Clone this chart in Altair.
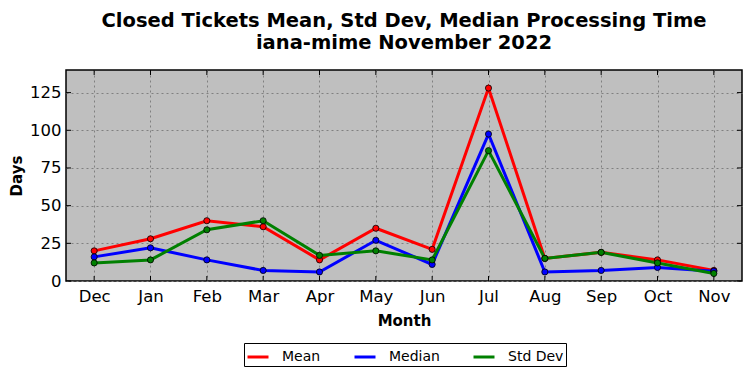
import altair as alt
import pandas as pd

months = ["Dec", "Jan", "Feb", "Mar", "Apr", "May", "Jun", "Jul", "Aug", "Sep", "Oct", "Nov"]
mean = [20, 28, 40, 36, 14, 35, 21, 128, 15, 19, 14, 7]
median = [16, 22, 14, 7, 6, 27, 11, 97.5, 6, 7, 9, 6.5]
stddev = [12, 14, 34, 40, 17, 20, 14, 86.5, 15, 19, 12, 5]
series = ["Mean", "Median", "Std Dev"]
colors = ["#ff0000", "#0000ff", "#008000"]
yticks = [0, 25, 50, 75, 100, 125]

rows = []
for name, vals in zip(series, [mean, median, stddev]):
    for m, v in zip(months, vals):
        rows.append({"Month": m, "Days": v, "Series": name})
df = pd.DataFrame(rows)
mdf = pd.DataFrame({"Month": months})
ydf = pd.DataFrame({"t": yticks})

W, H = 676, 211
font = "DejaVu Sans"

xs = alt.X("Month:N", sort=months, scale=alt.Scale(type="point", padding=0.5),
           axis=alt.Axis(title="Month", labelFontSize=16.5, titleFontSize=15, titleFontWeight="bold",
                         labelColor="black", titleColor="black", labelFont=font, titleFont=font,
                         ticks=False, labelPadding=7, titlePadding=9, labelAngle=0,
                         grid=True, gridColor="#808080", gridDash=[2, 3], gridWidth=1,
                         domain=False))
ys = alt.Y("Days:Q", scale=alt.Scale(domain=[0, 140], nice=False, zero=False),
           axis=alt.Axis(title="Days", values=yticks, labelFontSize=16.5, titleFontSize=15,
                         titleFontWeight="bold", labelColor="black", titleColor="black",
                         labelFont=font, titleFont=font, ticks=False, labelPadding=5,
                         titlePadding=5, grid=True, gridColor="#808080", gridDash=[2, 3],
                         gridWidth=1, domain=False))
color = alt.Color("Series:N", scale=alt.Scale(domain=series, range=colors),
                  legend=alt.Legend(title=None, orient="none", legendX=178, legendY=273,
                                    direction="horizontal", symbolType="stroke",
                                    symbolStrokeWidth=3, symbolSize=441,
                                    labelFontSize=14, labelFont=font, labelColor="black",
                                    strokeColor="black", padding=2, columnPadding=27,
                                    symbolOffset=0, labelOffset=12, fillColor="white"))

lines = alt.Chart(df).mark_line(strokeWidth=3).encode(x=xs, y=ys, color=color)
pts = alt.Chart(df).mark_point(filled=True, size=38, stroke="black", strokeWidth=0.8, opacity=1).encode(
    x=alt.X("Month:N", sort=months), y="Days:Q",
    fill=alt.Fill("Series:N", scale=alt.Scale(domain=series, range=colors), legend=None))

xt_top = alt.Chart(mdf).mark_rule(color="black", strokeWidth=1).encode(
    x=alt.X("Month:N", sort=months), y=alt.value(0), y2=alt.value(5))
xt_bot = alt.Chart(mdf).mark_rule(color="black", strokeWidth=1).encode(
    x=alt.X("Month:N", sort=months), y=alt.value(H - 5), y2=alt.value(H))
yt_l = alt.Chart(ydf).mark_rule(color="black", strokeWidth=1).encode(
    y=alt.Y("t:Q"), x=alt.value(0), x2=alt.value(5))
yt_r = alt.Chart(ydf).mark_rule(color="black", strokeWidth=1).encode(
    y=alt.Y("t:Q"), x=alt.value(W - 5), x2=alt.value(W))

chart = alt.layer(lines, pts, xt_top, xt_bot, yt_l, yt_r).properties(
    width=W, height=H, background="white",
    title=alt.Title(["Closed Tickets Mean, Std Dev, Median Processing Time", "iana-mime November 2022"],
                    fontSize=19.5, fontWeight="bold", font=font, color="black", anchor="middle",
                    offset=16, lineHeight=22),
    autosize=alt.AutoSizeParams(type="none"),
    padding={"left": 58, "top": 62, "right": 2, "bottom": 89},
).configure_view(fill="#bfbfbf", stroke="black", strokeWidth=1.5)

chart.save("out.html", embed_options={"renderer": "svg", "actions": False})
